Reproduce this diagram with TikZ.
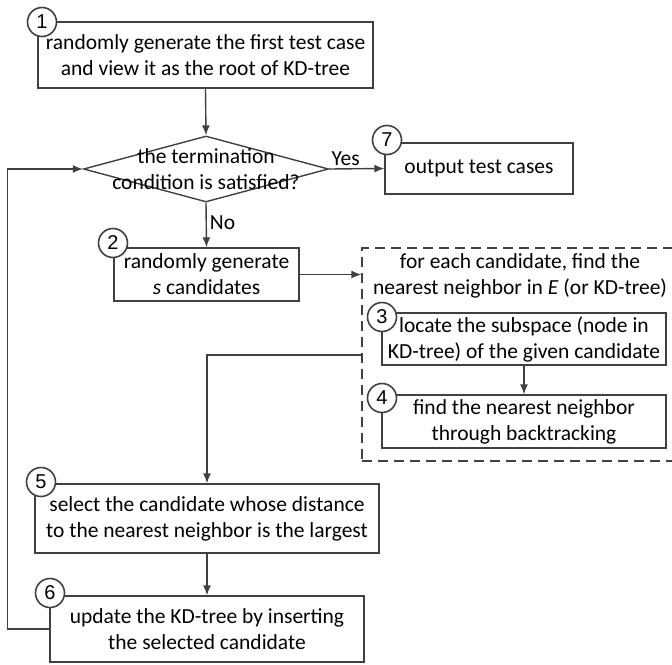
\documentclass[tikz,border=0pt]{standalone}
\usepackage{fontspec}
\setmainfont{Carlito}
\newfontfamily\numfont{Liberation Sans}
\usetikzlibrary{shapes.geometric,arrows.meta}
\definecolor{ln}{HTML}{404040}
\begin{document}
\begin{tikzpicture}[x=1pt,y=-1pt,
  txt/.style={font=\fontsize{21.5}{26}\selectfont, align=center, text=black},
  box/.style={txt, draw=ln, line width=1.4pt, fill=white, inner sep=0pt},
  num/.style={circle, draw=ln, line width=1.6pt, fill=white, minimum size=29pt, inner sep=0pt, font=\numfont\fontsize{20}{20}\selectfont},
  arr/.style={draw=ln, line width=1.4pt, -{Latex[length=10pt,width=8pt]}},
  plain/.style={draw=ln, line width=1.4pt}]
\useasboundingbox (0,0) rectangle (672,664);
% dashed group
\node[draw=ln, line width=1.4pt, dash pattern=on 10pt off 6pt, minimum width=313pt, minimum height=213pt, inner sep=0pt] (fe) at (518.5,354.5) {};
\node[txt] (fet) at (520,276) {for each candidate, find the\\nearest neighbor in \textit{E} (or KD-tree)};
% boxes
\node[box, minimum width=335pt, minimum height=66pt] (b1) at (205.5,55) {randomly generate the first test case\\and view it as the root of KD-tree};
\node[diamond, draw=ln, line width=1.4pt, minimum width=245pt, minimum height=66pt, inner sep=0pt, aspect=3.7] (dia) at (206,169) {};
\node[txt] (diat) at (206,169) {the termination\\condition is satisfied?};
\node[box, minimum width=188pt, minimum height=51pt] (b7) at (479,168.5) {output test cases};
\node[box, minimum width=185pt, minimum height=53pt] (b2) at (206.5,274.5) {randomly generate\\\textit{s} candidates};
\node[box, minimum width=284pt, minimum height=52pt] (b3) at (524,339) {locate the subspace (node in\\KD-tree) of the given candidate};
\node[box, minimum width=284pt, minimum height=53pt] (b4) at (524,421.5) {find the nearest neighbor\\through backtracking};
\node[box, minimum width=344pt, minimum height=69pt] (b5) at (207,518.5) {select the candidate whose distance\\to the nearest neighbor is the largest};
\node[box, minimum width=314pt, minimum height=66pt] (b6) at (207,629) {update the KD-tree by inserting\\the selected candidate};
% numbers
\node[num] (n1) at (42,22) {1};
\node[num] (n7) at (387,140) {7};
\node[num] (n2) at (113,243) {2};
\node[num] (n3) at (382,317) {3};
\node[num] (n4) at (382,398) {4};
\node[num] (n5) at (41,482) {5};
\node[num] (n6) at (50,593) {6};
% connectors
\coordinate (fo) at (362,355);
\draw[arr] (b1.south) -- (dia.north);
\draw[arr] (dia.east) -- node[txt, above, pos=0.3, inner sep=2pt] (yes) {Yes} (b7.west);
\draw[arr] (dia.south) -- node[txt, right, pos=0.45, inner sep=3pt] (no) {No} (b2.north);
\draw[arr] (b2.east) -- (b2.east -| fe.west);
\draw[arr] (fo) -| (b5.north);
\draw[arr] (b3.south) -- (b4.north);
\draw[arr] (b5.south) -- (b6.north);
\draw[arr] (b6.west) -- ++(-42,0) |- (dia.west);
\end{tikzpicture}
\end{document}
